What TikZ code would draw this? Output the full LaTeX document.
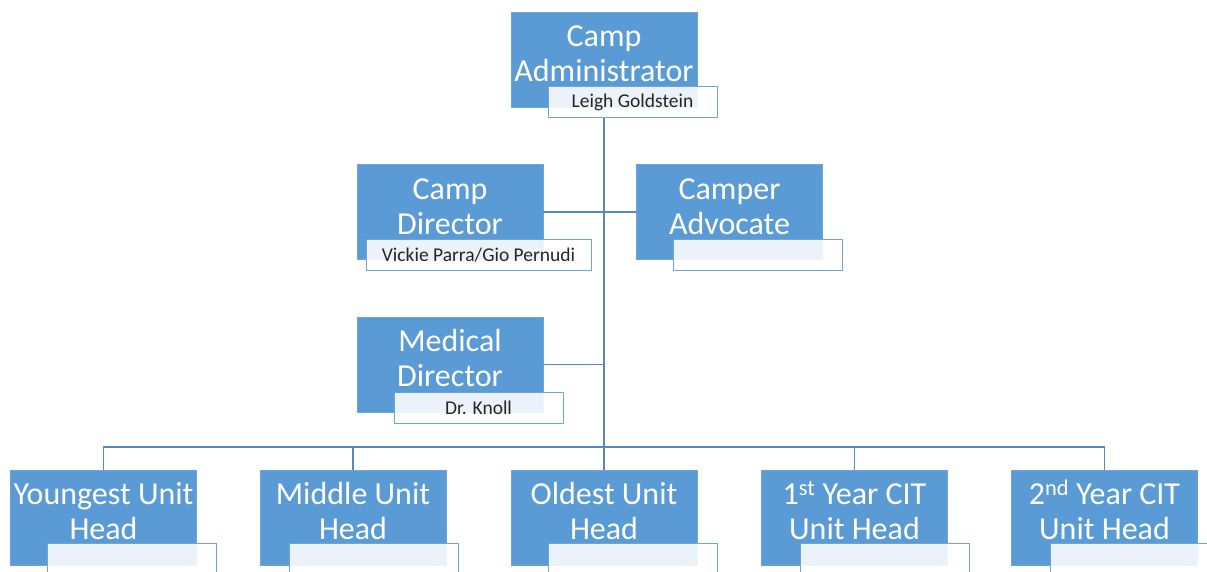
\documentclass[tikz,border=0pt]{standalone}
\usepackage{fontspec}
\setmainfont{Carlito}
\definecolor{boxblue}{HTML}{5B9BD5}
\definecolor{linkblue}{HTML}{5A86BD}
\definecolor{nameedge}{HTML}{6FA6DA}
\tikzset{
  rolebox/.style={draw=boxblue!90!white, line width=0.8pt, fill=boxblue, minimum width=186pt, minimum height=95pt, inner sep=0pt},
  roletext/.style={text=white, font=\fontsize{32}{35}\selectfont, align=center, anchor=base, inner sep=0pt},
  namebox/.style={draw=nameedge, line width=0.9pt, fill=white, fill opacity=0.88, text opacity=1, minimum width=169pt, minimum height=31pt, inner sep=0pt, font=\fontsize{19.5}{22}\selectfont, text=black!85},
  link/.style={draw=linkblue, line width=1.3pt}
}
\begin{document}
\begin{tikzpicture}[x=1pt,y=-1pt]
\clip (0,0) rectangle (1207,572);
\fill[white] (0,0) rectangle (1207,572);
% role boxes
\node[rolebox] (admin) at (604,59.5) {};
\node[rolebox] (cdir) at (450,212) {};
\node[rolebox] (cadv) at (729.5,212) {};
\node[rolebox] (med) at (450,364.5) {};
\node[rolebox] (young) at (103.5,517.5) {};
\node[rolebox] (middle) at (353,517.5) {};
\node[rolebox] (oldest) at (604,517.5) {};
\node[rolebox] (first) at (854.5,517.5) {};
\node[rolebox] (second) at (1104.5,517.5) {};
% name boxes
\node[namebox] (adminname) at (632.5,102) {Leigh Goldstein};
\node[namebox, minimum width=225pt] (cdirname) at (478.5,255) {Vickie Parra/Gio Pernudi};
\node[namebox] (cadvname) at (757.5,254.5) {};
\node[namebox] (medname) at (478.5,407.5) {Dr. Knoll};
\node[namebox] (youngname) at (131.5,558.5) {};
\node[namebox] (middlename) at (374,558.5) {};
\node[namebox] (oldestname) at (632.5,558.5) {};
\node[namebox] (firstname) at (884.5,558.5) {};
\node[namebox] (secondname) at (1134.5,558.5) {};
% connectors
\coordinate (bus) at (604,447);
\draw[link] (admin.south |- adminname.south) -- (oldest.north);
\draw[link] (cdir.east) -- (cadv.west);
\draw[link] (med.east) -- (med.east -| admin.south);
\draw[link] (young.north) -- (young.north |- bus) -- (second.north |- bus) -- (second.north);
\draw[link] (middle.north) -- (middle.north |- bus);
\draw[link] (first.north) -- (first.north |- bus);
% role texts
\node[roletext] (admint) at (604,82) {Camp\\Administrator};
\node[roletext] (cdirt) at (450,234) {Camp\\Director};
\node[roletext] (cadvt) at (729.5,234) {Camper\\Advocate};
\node[roletext] (medt) at (450,386.5) {Medical\\Director};
\node[roletext] (youngt) at (103.5,539.5) {Youngest Unit\\Head};
\node[roletext] (middlet) at (353,539.5) {Middle Unit\\Head};
\node[roletext] (oldestt) at (604,539.5) {Oldest Unit\\Head};
\node[roletext] (firstt) at (854.5,539.5) {1\textsuperscript{st} Year CIT\\Unit Head};
\node[roletext] (secondt) at (1104.5,539.5) {2\textsuperscript{nd} Year CIT\\Unit Head};
\end{tikzpicture}
\end{document}
